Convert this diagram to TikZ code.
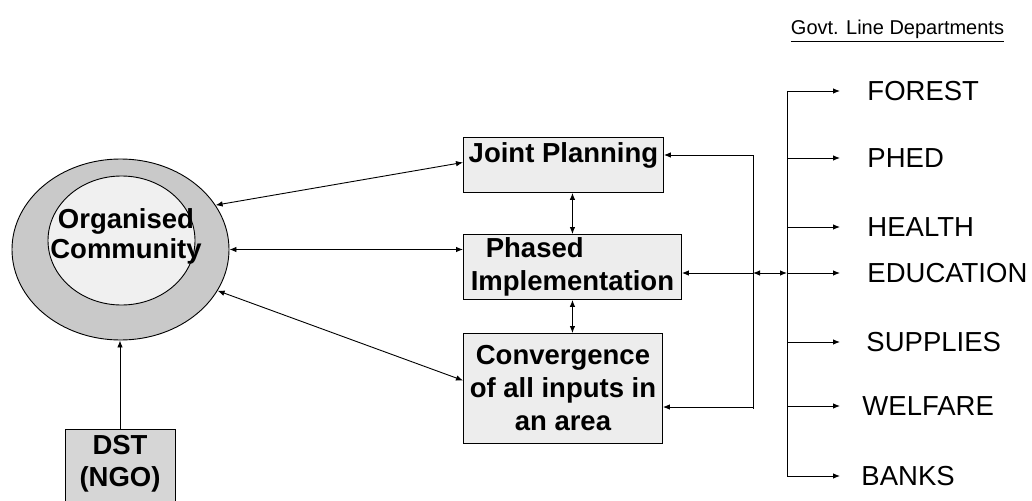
\documentclass[tikz,border=0pt]{standalone}
\usepackage{fontspec}
\setmainfont{Liberation Sans}
\usetikzlibrary{arrows.meta,shapes.geometric}

\newcommand{\hdrline}[1]{\setbox0=\hbox{#1}\rlap{\rule[-7.5pt]{\wd0}{1.3pt}}\box0}

\begin{document}
\begin{tikzpicture}[
  x=1pt, y=-1pt,
  line width=0.9pt,
  every node/.style={inner sep=0pt},
  box/.style={draw, fill=gray!14, anchor=north west, align=center, font=\fontsize{27.5}{33}\selectfont\bfseries},
  dept/.style={anchor=west, font=\fontsize{27.5}{32}\selectfont},
  arr/.style={-{Latex[length=7pt,width=5.5pt]}},
  dbl/.style={{Latex[length=7pt,width=5.5pt]}-{Latex[length=7pt,width=5.5pt]}}
]
\useasboundingbox (0,0) rectangle (1032,500);
\clip (0,0) rectangle (1032,500);

% community rings
\node[ellipse, draw, fill=gray!42, minimum width=217, minimum height=181] (ring) at (120.5,249.5) {};
\node[ellipse, draw, fill=gray!12, minimum width=147, minimum height=129] (core) at (121.5,240.5) {};
\node[align=center, font=\fontsize{27.5}{30}\selectfont\bfseries] (comm) at (126,236.3) {Organised\\Community};

\node[draw, fill=gray!32, anchor=north, minimum width=110, align=center, inner ysep=6pt, text depth=50pt, font=\fontsize{27.5}{32}\selectfont\bfseries] (dst) at (120,429) {DST\\(NGO)};

% middle column
\node[box, minimum width=200, minimum height=55, text depth=24pt] (jp) at (463,137) {Joint Planning};
\node[box, minimum width=218, minimum height=65, align=left] (ph) at (463,234) {\hspace*{15pt}Phased\\Implementation};
\node[box, minimum width=199, minimum height=110] (cv) at (463,333) {Convergence\\of all inputs in\\an area};

\node[anchor=base, font=\fontsize{20}{24}\selectfont] (hdr) at (897.5,35) {\hdrline{Govt. Line Departments}};

\draw[dbl] (ring.25) -- ([yshift=2.5pt]jp.west);
\draw[dbl] (ring.east) -- (ring.east -| ph.west);
\draw[dbl] (ring.-23) -- ([yshift=8pt]cv.west);
\draw[dbl] (ph.north) -- (ph.north |- jp.south);
\draw[dbl] (ph.south) -- (ph.south |- cv.north);
\draw[arr] (dst.north) -- (dst.north |- ring.south);

% line departments
\coordinate (jtop) at (753,155);
\coordinate (hub) at (753,273);
\coordinate (jbot) at (753,407);
\coordinate (bus) at (787,273);
\coordinate (tip) at (840,273);
\draw (jtop) -- ([yshift=-2pt]jbot);
\draw[arr] (jtop) -- (jtop -| jp.east);
\draw[arr] (hub) -- (hub -| ph.east);
\draw[arr] (jbot) -- (jbot -| cv.east);
\draw[dbl] (hub) -- (bus);

\foreach \n/\t/\x/\y in {forest/FOREST/867/91, phed/PHED/867/158, health/HEALTH/867/227, edu/EDUCATION/867/273, sup/SUPPLIES/866/342, wel/WELFARE/862/406, bank/BANKS/861/476}{
  \node[dept] (\n) at (\x,\y) {\t};
  \draw[arr] (\n.west -| bus) -- (\n.west -| tip);
}
\draw (forest.west -| bus) -- (bank.west -| bus);
\end{tikzpicture}
\end{document}
